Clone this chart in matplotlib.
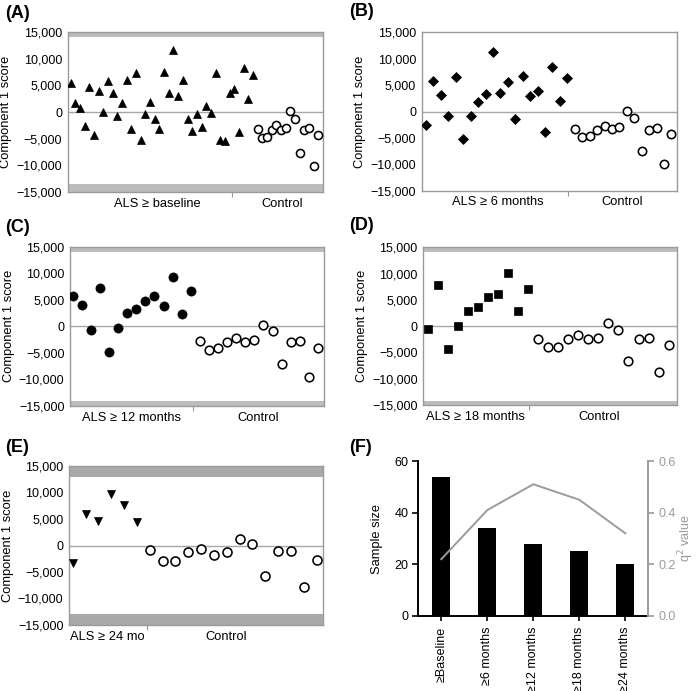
import matplotlib
matplotlib.use('Agg')
import matplotlib.pyplot as plt

plt.rcParams['font.family'] = ['Liberation Sans', 'DejaVu Sans']
plt.rcParams['axes.unicode_minus'] = True

# ---------------- data ----------------
a_als = [5500, 1750, 700, -2600, 4700, -4300, 3900, 0, 5900, 3500, -800, 1700, 6000,
         -3100, 7300, -5200, -450, 1900, -1400, -3250, 7500, 3600, 11600, 3000, 6000,
         -1300, -3600, -400, -2900, 1100, -100, 7300, -5300, -5500, 3500, 4300, -3800,
         8300, 2400, 6900]
a_ctrl = [-3150, -4950, -4700, -3330, -2450, -3400, -2950, 200, -1250, -7700, -3450,
          -3000, -10150, -4400]

b_als = [-2650, 5700, 3200, -800, 6550, -5200, -800, 1800, 3250, 11200, 3550, 5500,
         -1400, 6650, 3000, 3950, -3800, 8400, 1900, 6300]
b_ctrl = [-3300, -4900, -4700, -3500, -2700, -3300, -3000, 100, -1200, -7400, -3550,
          -3050, -9950, -4300]

c_als = [5800, 4100, -750, 7200, -4850, -400, 2500, 3200, 4800, 5800, 3900, 9350, 2400, 6700]
c_ctrl = [-2700, -4400, -4150, -2950, -2150, -2950, -2600, 250, -900, -7050, -2950,
          -2700, -9450, -4000]

d_als = [-550, 7750, -4350, 50, 2800, 3700, 5550, 6050, 10150, 2900, 7050]
d_ctrl = [-2350, -4050, -4000, -2400, -1750, -2500, -2200, 650, -650, -6650, -2450,
          -2200, -8800, -3500]

e_als = [-3250, 5850, 4600, 9700, 7550, 4400]
e_ctrl = [-900, -3000, -2850, -1150, -700, -1800, -1300, 1200, 250, -5800, -950,
          -1100, -7900, -2700]

group_labels = ['ALS \u2265 baseline', 'ALS \u2265 6 months', 'ALS \u2265 12 months',
                'ALS \u2265 18 months', 'ALS \u2265 24 mo']
control_label = 'Control'
y_ticks = [-15000, -10000, -5000, 0, 5000, 10000, 15000]

f_categories = ['\u2265Baseline', '\u22656 months', '\u226512 months',
                '\u226518 months', '\u226524 months']
f_sample_size = [54, 34, 28, 25, 20]
f_q2 = [0.22, 0.41, 0.51, 0.45, 0.32]
f_left_ticks = [0, 20, 40, 60]
f_right_ticks = [0.0, 0.2, 0.4, 0.6]

# ---------------- figure ----------------
W, H = 700, 691
fig = plt.figure(figsize=(W / 100, H / 100), dpi=100)


def px_axes(l, t, r, b):
    return fig.add_axes([l / W, 1 - b / H, (r - l) / W, (b - t) / H])


FRAME = '#9a9a9a'
BAND = '#bcbcbc'
FS = 9


def fmt(v):
    return f'{v:,.0f}'.replace('-', '\u2212')


def scatter_panel(ax, als, ctrl, marker, ms_als, ms_ctrl, xlim, lab_pos, ctrl_pos,
                  sep, glabel, band=None, band_color=BAND):
    n_als = len(als)
    xs_als = list(range(n_als))
    xs_ctrl = list(range(n_als, n_als + len(ctrl)))
    ax.set_xlim(*xlim)
    ax.set_ylim(-15000, 15000)
    if band is not None:
        ax.axhspan(band[1], 15000, color=band_color, lw=0, zorder=0)
        ax.axhspan(-15000, band[0], color=band_color, lw=0, zorder=0)
    ax.axhline(0, color='#a8a8a8', lw=1.0, zorder=1)
    ax.plot(xs_als, als, linestyle='none', marker=marker, ms=ms_als,
            mfc='black', mec='black', mew=0.5, zorder=3)
    ax.plot(xs_ctrl, ctrl, linestyle='none', marker='o', ms=ms_ctrl,
            mfc='white', mec='black', mew=1.15, zorder=3)
    for s in ax.spines.values():
        s.set_color(FRAME)
        s.set_linewidth(1.0)
    ax.set_yticks(y_ticks)
    ax.set_yticklabels([fmt(v) for v in y_ticks], fontsize=FS)
    ax.tick_params(axis='y', length=0, pad=4)
    ax.set_xticks([lab_pos, ctrl_pos])
    ax.set_xticklabels([glabel, control_label], fontsize=9.3)
    ax.tick_params(axis='x', which='major', length=0, pad=4)
    ax.set_xticks([sep], minor=True)
    ax.tick_params(axis='x', which='minor', length=3.5, width=0.8,
                   color=FRAME, direction='out')
    ax.set_ylabel('Component 1 score', fontsize=9.3, labelpad=3)


def panel_label(x, y, s):
    fig.text(x / W, 1 - y / H, s, fontsize=13, fontweight='bold',
             ha='left', va='center')


# (A)
axA = px_axes(67.7, 32, 323, 192)
scatter_panel(axA, a_als, a_ctrl, '^', 5.8, 5.8, (-0.64, 54), 18.6, 45.2, 34.5,
              group_labels[0], band=(-13500, 14000))
panel_label(5, 14, '(A)')

# (B)
axB = px_axes(421.7, 32.3, 676.7, 190.7)
scatter_panel(axB, b_als, b_ctrl, 'D', 4.6, 6.0, (-0.58, 33.7), 9.6, 26.3, 19.1,
              group_labels[1])
panel_label(349, 11, '(B)')

# (C)
axC = px_axes(70, 246.7, 324, 406)
scatter_panel(axC, c_als, c_ctrl, 'o', 6.6, 6.2, (-0.3, 27.66), 6.45, 20.4, 13.2,
              group_labels[2], band=(-14050, 14050))
panel_label(5, 227, '(C)')

# (D)
axD = px_axes(423.3, 247.3, 676.7, 405)
scatter_panel(axD, d_als, d_ctrl, 's', 5.6, 6.2, (-0.43, 24.8), 4.75, 17.1, 10.1,
              group_labels[3], band=(-14200, 14200))
panel_label(349, 226, '(D)')

# (E)
axE = px_axes(69, 466, 323.3, 625)
scatter_panel(axE, e_als, e_ctrl, 'v', 6.0, 6.5, (-0.29, 19.52), 2.68, 11.98, 5.76,
              group_labels[4], band=(-13000, 13000), band_color='#a9a9a9')
panel_label(5, 448, '(E)')

# (F)
axF = px_axes(418.3, 461, 648.3, 616)
xs = list(range(len(f_categories)))
axF.bar(xs, f_sample_size, width=0.385, color='black', zorder=2)
axF.set_xlim(-0.5, 4.5)
axF.set_ylim(0, 60)
axF.set_yticks(f_left_ticks)
axF.set_yticklabels([str(v) for v in f_left_ticks], fontsize=FS)
axF.set_xticks(xs)
axF.set_xticklabels(f_categories, rotation=90, fontsize=FS)
axF.tick_params(axis='x', length=3.5, width=1.2, pad=4)
axF.tick_params(axis='y', length=4, width=1.2, pad=3)
axF.set_ylabel('Sample size', fontsize=9.3, labelpad=8)
axF.spines['top'].set_visible(False)
axF.spines['right'].set_visible(False)
axF.spines['left'].set_linewidth(1.4)
axF.spines['bottom'].set_linewidth(1.4)

GREY = '#9b9b9b'
axF2 = axF.twinx()
axF2.plot(xs, f_q2, color=GREY, lw=1.4, zorder=3)
axF2.set_ylim(0, 0.6)
axF2.set_yticks(f_right_ticks)
axF2.set_yticklabels([f'{v:.1f}' for v in f_right_ticks], fontsize=FS, color=GREY)
axF2.tick_params(axis='y', length=4, width=1.2, color=GREY, pad=3)
axF2.set_ylabel('q$^2$ value', fontsize=9, color=GREY, labelpad=1)
for k in ('top', 'left', 'bottom'):
    axF2.spines[k].set_visible(False)
axF2.spines['right'].set_color(GREY)
axF2.spines['right'].set_linewidth(1.4)
panel_label(349, 448, '(F)')

fig.savefig('out.png', dpi=100)
